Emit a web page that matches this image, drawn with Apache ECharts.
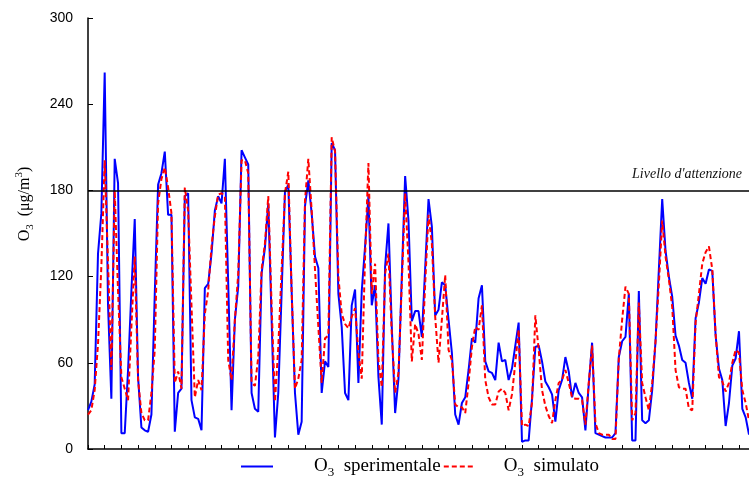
<!DOCTYPE html>
<html>
<head>
<meta charset="utf-8">
<script src="https://cdn.jsdelivr.net/npm/echarts@6/dist/echarts.min.js"></script>
<style>html,body{margin:0;padding:0;background:#fff}#c{width:749px;height:480px}</style>
</head>
<body>
<div id="c"></div>
<script>
// O3 measured (sperimentale), µg/m3, one value per day
const measured = [27,33,45,136,164,262,100,35,202,185,11,11,55,110,160,50,15,13,12,24,
108,184,192,207,163,163,12,39,42,176,178,34,22,21,13,112,115,136,166,176,
171,202,115,27,90,113,208,203,198,39,28,26,122,140,171,90,8,39,109,179,
184,110,39,10,19,169,187,164,134,126,39,61,57,213,208,108,85,39,34,100,
111,46,110,141,176,100,114,50,17,127,157,85,25,49,120,190,159,89,96,96,
78,126,174,155,93,97,116,114,90,67,24,17,32,36,55,77,74,105,114,61,
54,53,48,74,61,62,48,56,72,88,5,6,6,35,71,72,61,47,43,38,
19,41,48,64,54,36,46,39,36,13,45,74,11,10,9,8,8,8,11,64,
75,78,108,6,6,110,20,18,20,41,75,125,174,138,120,106,79,72,62,60,
46,35,91,102,119,115,125,124,79,56,48,16,32,58,63,82,28,22,10];
// O3 simulated (simulato)
const simulated = [24,27,41,73,127,201,130,55,180,110,50,42,34,85,134,48,25,20,20,39,
69,171,188,196,182,164,46,54,42,182,166,100,36,48,41,94,110,141,162,177,
178,176,62,48,90,122,201,201,192,46,44,64,125,143,176,100,33,71,125,178,
193,110,42,49,62,173,202,166,125,85,46,77,79,217,207,120,94,87,84,92,
98,67,49,134,199,108,129,62,43,122,136,80,39,53,115,178,130,61,87,80,
62,115,163,143,92,60,90,121,69,62,31,29,29,25,46,71,85,83,100,48,
36,31,31,40,42,39,27,38,60,83,16,17,16,32,93,69,41,30,23,18,
34,46,48,55,46,36,35,35,34,17,46,72,18,11,10,10,10,7,7,63,
90,113,108,20,25,102,46,36,27,46,75,115,159,134,118,99,55,43,42,42,
28,27,88,108,129,137,141,125,80,50,47,40,46,60,69,67,41,32,20];
const days = measured.map((_, i) => String(i + 1));
const yTicks = [0, 60, 120, 180, 240, 300];
const thresholdValue = 180;
const thresholdLabel = "Livello d'attenzione";
const seriesNames = ['O3 sperimentale', 'O3 simulato'];

const serif = "'Liberation Serif','Times New Roman',serif";
const chart = echarts.init(document.getElementById('c'), null, {renderer: 'canvas'});
chart.setOption({
  animation: false,
  backgroundColor: '#fff',
  grid: {left: 88, right: 0, top: 18, bottom: 31, containLabel: false},
  legend: {
    left: 240, top: 457, padding: 0,
    itemWidth: 32, itemHeight: 14, itemGap: 2,
    itemStyle: {opacity: 0, borderWidth: 0},
    data: seriesNames,
    formatter: function (name) {
      const pad = name === seriesNames[0] ? 'g1' : 'g2';
      return '{' + pad + '| }{a|O}{sub|3}{a|  ' + name.slice(3) + '}';
    },
    textStyle: {
      fontFamily: serif, fontSize: 19, color: '#000',
      rich: {
        g1: {width: 36, fontSize: 19, lineHeight: 26},
        g2: {width: 23, fontSize: 19, lineHeight: 26},
        a: {fontFamily: serif, fontSize: 19, color: '#000', lineHeight: 26, verticalAlign: 'middle'},
        sub: {fontFamily: serif, fontSize: 13, color: '#000', lineHeight: 12, verticalAlign: 'bottom'}
      }
    }
  },
  graphic: [{
    type: 'text', x: 25, y: 204, rotation: Math.PI / 2,
    style: {
      text: '{a|O}{sub|3}{a|  (μg/m}{sup|3}{a|)}',
      align: 'center', verticalAlign: 'middle',
      font: '16px ' + serif, fill: '#000',
      rich: {
        a: {fontFamily: serif, fontSize: 16, fill: '#000', lineHeight: 22, verticalAlign: 'middle'},
        sub: {fontFamily: serif, fontSize: 11, fill: '#000', lineHeight: 10, verticalAlign: 'bottom'},
        sup: {fontFamily: serif, fontSize: 11, fill: '#000', lineHeight: 10, verticalAlign: 'top'}
      }
    }
  }],
  xAxis: {
    type: 'category', data: days, boundaryGap: false,
    axisLine: {lineStyle: {color: '#000', width: 1.5}},
    axisTick: {inside: true, length: 4, interval: 4, lineStyle: {color: '#000', width: 1}},
    axisLabel: {show: false},
    splitLine: {show: false}
  },
  yAxis: {
    type: 'value', min: 0, max: 300, interval: 60,
    axisLine: {show: true, lineStyle: {color: '#000', width: 1.5}},
    axisTick: {show: true, inside: true, length: 5, lineStyle: {color: '#000'}},
    axisLabel: {
      margin: 15, fontFamily: "'Liberation Sans',Arial,sans-serif", fontSize: 14, color: '#000',
      formatter: function (v) { return yTicks.indexOf(v) >= 0 ? String(v) : ''; }
    },
    splitLine: {show: false}
  },
  series: [
    {
      name: seriesNames[0], type: 'line', data: measured, symbol: 'none',
      lineStyle: {color: '#0000ff', width: 2}, itemStyle: {color: '#0000ff'},
      z: 3,
      markLine: {
        silent: true, symbol: 'none', animation: false,
        lineStyle: {color: '#000', width: 1.5, type: 'solid'},
        label: {
          show: true, position: 'insideEndTop', formatter: thresholdLabel,
          fontFamily: serif, fontStyle: 'italic', fontSize: 14, color: '#111',
          distance: [7, 9]
        },
        data: [{yAxis: thresholdValue}]
      }
    },
    {
      name: seriesNames[1], type: 'line', data: simulated, symbol: 'none',
      lineStyle: {color: '#ff0000', width: 2, type: [5, 3]}, itemStyle: {color: '#ff0000'},
      z: 4
    }
  ]
});
</script>
</body>
</html>
